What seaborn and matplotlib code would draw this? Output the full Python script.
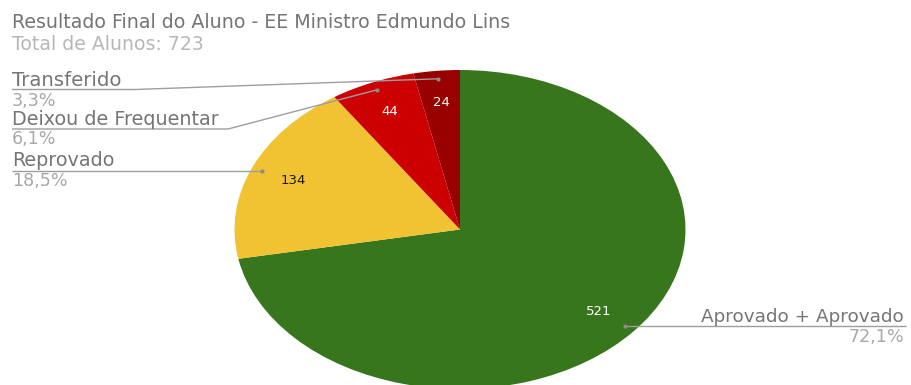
import matplotlib
matplotlib.use("Agg")
import matplotlib.pyplot as plt
import seaborn as sns
import numpy as np

# ---- data ----
categories = ["Aprovado + Aprovado", "Reprovado", "Deixou de Frequentar", "Transferido"]
values = [521, 134, 44, 24]
percent_labels = ["72,1%", "18,5%", "6,1%", "3,3%"]
colors = ["#38761d", "#f1c232", "#cc0000", "#990000"]
title = "Resultado Final do Aluno - EE Ministro Edmundo Lins"
subtitle = "Total de Alunos: 723"

sns.set_theme(style="white")
plt.rcParams['font.family'] = ['DejaVu Sans']

W, H = 911, 385
fig = plt.figure(figsize=(W / 100, H / 100), dpi=100)
fig.patch.set_facecolor("white")

# pie geometry (pixels)
CX, CY, RX, RY = 460.0, 229.5, 225.5, 159.5
ax = fig.add_axes([(CX - RX) / W, (H - CY - RY) / H, 2 * RX / W, 2 * RY / H])
total = sum(values)
palette = sns.color_palette(colors)
wedges, texts, autotexts = ax.pie(
    values, colors=palette, startangle=90, counterclock=False,
    autopct=lambda p: f"{int(round(p * total / 100))}", pctdistance=0.8,
    wedgeprops=dict(linewidth=0),
    textprops=dict(fontsize=9.5, color="white"))
autotexts[1].set_color("#1a1a1a")
ax.set_aspect("auto")
ax.set_xlim(-1, 1)
ax.set_ylim(-1, 1)
ax.axis("off")

# overlay axes in pixel coordinates
bg = fig.add_axes([0, 0, 1, 1])
bg.set_xlim(0, W)
bg.set_ylim(H, 0)
bg.axis("off")

bg.text(12, 28, title, fontsize=13.7, color="#757575", va="baseline", ha="left")
bg.text(12, 50, subtitle, fontsize=13.6, color="#b7b7b7", va="baseline", ha="left")

LINE_C = "#9e9e9e"
NAME_C = "#757575"
PCT_C = "#a8a8a8"

# layout: (text x, name baseline, pct baseline, ha, line end x, elbow x or None, line y or None, name size)
layout = [
    (904, 322, 342, "right", 906, None, None, 13.2),
    (12, 166, 186, "left", 12, None, None, 13.8),
    (12, 125, 144, "left", 12, 228, 129, 13.8),
    (12, 85.5, 105.5, "left", 12, 135, 89.5, 14.2),
]

for w, name, pct, (tx, ny, py_, ha, ex, elbx, ly, fs) in zip(wedges, categories, percent_labels, layout):
    th = np.deg2rad((w.theta1 + w.theta2) / 2)
    dx = CX + RX * 0.95 * np.cos(th)
    dy = CY - RY * 0.95 * np.sin(th)
    if elbx is None:
        xs, ys = [dx, ex], [dy, dy]
    else:
        xs, ys = [dx, elbx, ex], [dy, ly, ly]
    bg.plot(xs, ys, color=LINE_C, lw=1.0, solid_capstyle="butt")
    bg.plot([dx], [dy], "o", color="#8a8a8a", ms=3, mew=0)
    bg.text(tx, ny, name, fontsize=fs, color=NAME_C, va="baseline", ha=ha)
    bg.text(tx, py_, pct, fontsize=12.6, color=PCT_C, va="baseline", ha=ha)

fig.savefig("out.png", dpi=100, facecolor="white")
